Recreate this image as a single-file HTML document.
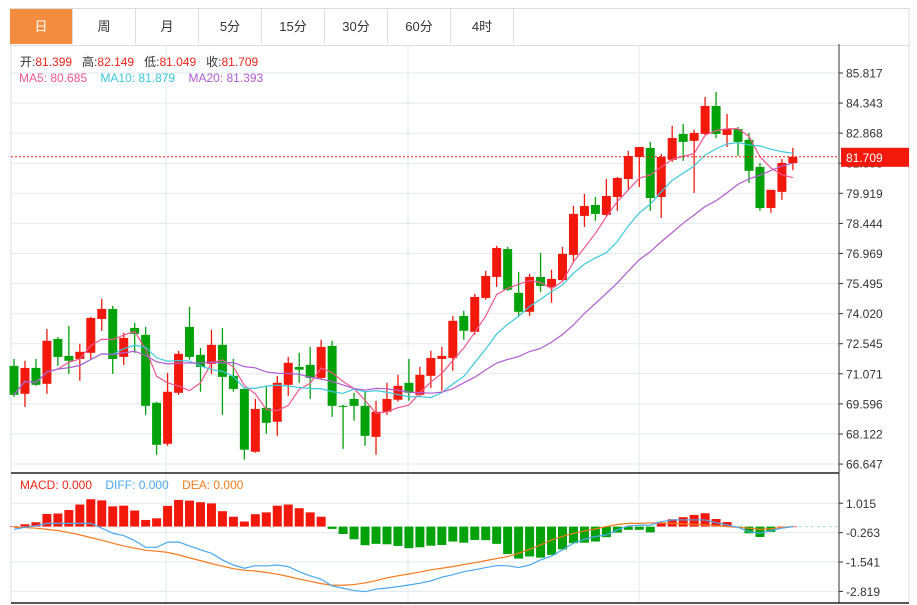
<!DOCTYPE html>
<html><head><meta charset="utf-8"><style>
body{margin:0;background:#fff;font-family:"Liberation Sans","Noto Sans CJK SC",sans-serif;}
#wrap{position:relative;width:917px;height:605px;overflow:hidden;}
.tab{position:absolute;top:9px;height:35px;width:62px;border-right:1px solid #ddd;font-size:13px;line-height:35px;text-align:center;color:#333;}
</style></head><body>
<div id="wrap">
<div style="position:absolute;left:10px;top:8px;width:899px;height:36px;border-top:1px solid #ddd;border-left:1px solid #ddd;border-bottom:1px solid #ddd;"></div>
<div class="tab" style="left:10px;background:#f28c3e;color:#fff;">日</div>
<div class="tab" style="left:73px">周</div>
<div class="tab" style="left:136px">月</div>
<div class="tab" style="left:199px">5分</div>
<div class="tab" style="left:262px">15分</div>
<div class="tab" style="left:325px">30分</div>
<div class="tab" style="left:388px">60分</div>
<div class="tab" style="left:451px">4时</div>
<svg id="svg" width="917" height="605" style="position:absolute;left:0;top:0"></svg>
<div style="position:absolute;left:20px;top:53px;font-size:12px;color:#333;white-space:nowrap">开:<span style="color:#f0241a">81.399</span>&nbsp;&nbsp; 高:<span style="color:#f0241a">82.149</span>&nbsp;&nbsp; 低:<span style="color:#f0241a">81.049</span>&nbsp;&nbsp; 收:<span style="color:#f0241a">81.709</span></div>
<div style="position:absolute;left:19px;top:71px;font-size:12px;white-space:nowrap"><span style="color:#f0578f">MA5: 80.685</span>&nbsp;&nbsp;&nbsp; <span style="color:#3cc8dc">MA10: 81.879</span>&nbsp;&nbsp;&nbsp; <span style="color:#b05cd0">MA20: 81.393</span></div>
<div style="position:absolute;left:20px;top:478px;font-size:12px;white-space:nowrap"><span style="color:#f0241a">MACD: 0.000</span>&nbsp;&nbsp;&nbsp; <span style="color:#4aa8f0">DIFF: 0.000</span>&nbsp;&nbsp;&nbsp; <span style="color:#f57a1e">DEA: 0.000</span></div>
</div>
<script>
const opens=[71.46,70.09,71.36,70.58,72.78,71.95,71.80,72.10,73.76,74.25,71.90,73.32,72.98,69.65,67.64,70.14,73.37,72.00,71.56,72.49,70.97,70.33,67.25,69.40,68.72,70.53,71.41,71.51,70.87,72.44,69.50,69.84,69.50,67.98,69.21,69.80,70.63,70.04,70.97,71.80,71.85,73.91,73.13,74.79,75.82,77.19,75.04,74.11,75.82,75.33,75.67,76.90,78.81,79.35,78.86,79.74,80.62,81.70,82.14,79.74,81.56,82.83,82.49,82.83,84.20,82.78,83.07,82.54,81.21,79.20,79.99,81.399];
const highs=[71.80,71.71,71.80,73.27,72.88,73.42,72.54,73.86,74.74,74.40,73.08,73.57,73.37,69.70,71.12,72.20,74.35,72.34,73.23,73.32,71.80,70.38,69.84,70.48,70.97,71.90,72.10,72.39,72.74,72.69,69.55,70.14,70.19,69.75,70.63,71.02,71.80,71.41,72.20,72.39,73.91,74.16,74.99,76.12,77.34,77.29,76.07,75.97,77.00,76.17,77.29,79.30,79.89,79.74,80.62,80.72,82.00,82.19,82.44,81.85,83.22,83.32,83.03,84.64,84.89,83.81,83.17,82.88,81.41,80.09,81.60,82.149];
const lows=[69.94,69.45,70.48,70.09,71.46,71.07,70.73,71.76,73.18,71.07,71.51,72.10,69.06,67.10,67.54,70.04,71.76,70.19,71.07,69.06,70.19,66.86,67.20,68.13,68.03,69.99,70.63,69.84,70.82,68.96,67.39,68.77,67.54,67.10,69.06,69.70,69.75,69.99,70.38,70.24,71.22,72.74,72.98,74.70,75.33,75.14,73.86,73.91,75.09,74.55,75.58,76.51,78.27,78.57,78.81,79.06,80.13,80.23,79.06,78.71,81.46,81.51,79.94,82.78,82.63,82.19,81.75,80.43,79.06,78.96,79.60,81.049];
const closes=[70.04,71.36,70.53,72.69,71.90,71.71,72.15,73.81,74.25,71.80,72.83,73.03,69.50,67.59,70.19,72.05,71.90,71.41,72.49,70.92,70.33,67.35,69.35,68.67,70.63,71.61,71.27,70.87,72.39,69.50,69.45,69.50,68.03,69.21,69.84,70.48,70.14,71.02,71.85,71.95,73.67,73.18,74.84,75.87,77.24,75.19,74.11,75.82,75.38,75.72,76.95,78.91,79.30,78.91,79.79,80.67,81.75,82.19,79.69,81.70,82.63,82.44,82.88,84.20,82.83,83.07,82.44,81.02,79.20,80.09,81.41,81.709];
const macdHist=[0.02,0.10,0.19,0.55,0.57,0.72,0.96,1.19,1.14,0.88,0.91,0.70,0.29,0.36,0.90,1.16,1.13,1.06,1.01,0.67,0.43,0.22,0.54,0.62,0.91,0.96,0.80,0.62,0.43,-0.10,-0.32,-0.55,-0.81,-0.75,-0.77,-0.84,-0.94,-0.90,-0.83,-0.80,-0.65,-0.70,-0.58,-0.59,-0.75,-1.19,-1.39,-1.30,-1.35,-1.23,-0.99,-0.72,-0.70,-0.65,-0.46,-0.26,-0.14,-0.14,-0.25,0.14,0.32,0.41,0.51,0.58,0.33,0.20,-0.03,-0.29,-0.45,-0.23,0,0];
const diffVals=[-0.12,-0.03,0.03,0.14,0.14,0.14,0.14,0.14,-0.07,-0.29,-0.39,-0.61,-0.90,-0.90,-0.68,-0.67,-0.84,-1.01,-1.16,-1.45,-1.67,-1.81,-1.70,-1.71,-1.67,-1.74,-1.96,-2.14,-2.29,-2.58,-2.68,-2.78,-2.83,-2.72,-2.67,-2.61,-2.54,-2.46,-2.36,-2.20,-2.09,-1.96,-1.88,-1.78,-1.70,-1.70,-1.78,-1.67,-1.45,-1.28,-1.01,-0.72,-0.55,-0.43,-0.36,-0.14,0.03,0.06,0.06,0.22,0.29,0.29,0.29,0.29,0.17,0.07,-0.03,-0.22,-0.29,-0.17,-0.07,0];
const deaVals=[-0.03,-0.04,-0.07,-0.12,-0.17,-0.26,-0.36,-0.48,-0.59,-0.72,-0.84,-0.94,-1.03,-1.07,-1.12,-1.23,-1.36,-1.48,-1.61,-1.72,-1.83,-1.90,-1.93,-1.99,-2.07,-2.17,-2.28,-2.38,-2.48,-2.55,-2.55,-2.52,-2.45,-2.35,-2.23,-2.14,-2.06,-1.97,-1.88,-1.81,-1.74,-1.65,-1.57,-1.48,-1.39,-1.30,-1.16,-0.99,-0.80,-0.58,-0.43,-0.29,-0.19,-0.10,0,0.09,0.14,0.14,0.16,0.17,0.14,0.12,0.10,0.07,0.04,0,-0.03,-0.07,-0.12,-0.09,-0.03,0];
const priceTicks=[85.817,84.343,82.868,81.393,79.919,78.444,76.969,75.495,74.020,72.545,71.071,69.596,68.122,66.647];
const macdTicks=[1.015,-0.263,-1.541,-2.819];
const lastPrice=81.709;

const svg=document.getElementById('svg');
const NS='http://www.w3.org/2000/svg';
function mk(tag,attrs,name){const e=document.createElementNS(NS,tag);for(const k in attrs)e.setAttribute(k,attrs[k]);


svg.appendChild(e);return e;}
const X0=14,STEP=10.97,AX=839;
const xS=i=>X0+i*STEP;
const yP=p=>73+(85.817-p)/1.47457*30.08;
const yM=v=>526.6-v*23.0;
const RED='#f2190c',GREEN='#03a10a';

// frame
mk('line',{x1:11,y1:44,x2:11,y2:603,stroke:'#d8dde3'},'left-border');
mk('line',{x1:909,y1:8,x2:909,y2:603,stroke:'#ddd'},'right-border');
[166,408,639].forEach(x=>mk('line',{x1:x,y1:45,x2:x,y2:603,stroke:'#e3e9ef'},'v-grid'));
priceTicks.forEach(t=>{const y=yP(t);
mk('line',{x1:11,y1:y,x2:AX,y2:y,stroke:'#e3e9ef'},'price-grid');
mk('line',{x1:AX,y1:y,x2:AX+4,y2:y,stroke:'#333'},'price-tick');
const tx=mk('text',{x:AX+7,y:y+4.5,'font-size':12,fill:'#333','font-family':'Liberation Sans'},'price-tick-label');tx.textContent=t.toFixed(3);});
macdTicks.forEach(t=>{const y=yM(t);
mk('line',{x1:11,y1:y,x2:AX,y2:y,stroke:'#e3e9ef'},'macd-grid');
mk('line',{x1:AX,y1:y,x2:AX+4,y2:y,stroke:'#333'},'macd-tick');
const tx=mk('text',{x:AX+7,y:y+4.5,'font-size':12,fill:'#333','font-family':'Liberation Sans'},'macd-tick-label');tx.textContent=t.toFixed(3);});
mk('line',{x1:AX,y1:44,x2:AX,y2:603,stroke:'#333'},'y-axis-line');
mk('line',{x1:11,y1:473,x2:AX,y2:473,stroke:'#222','stroke-width':1.5},'panel-separator');
mk('line',{x1:11,y1:603,x2:909,y2:603,stroke:'#222','stroke-width':1.5},'bottom-axis');

// candles
for(let i=0;i<closes.length;i++){
const up=closes[i]>=opens[i],c=up?RED:GREEN,x=xS(i);
mk('line',{x1:x,y1:yP(highs[i]),x2:x,y2:yP(lows[i]),stroke:c,'stroke-width':1.3},'candle-wick');
const t=yP(Math.max(opens[i],closes[i])),b=yP(Math.min(opens[i],closes[i]));
mk('rect',{x:x-4.5,y:t,width:9,height:Math.max(1,b-t),fill:c},'candle-body');}

function ma(n){return closes.map((v,i)=>{const s=closes.slice(Math.max(0,i-n+1),i+1);return s.reduce((a,b)=>a+b,0)/s.length;});}
[[5,'#f0578f','ma5-line'],[10,'#3cc8dc','ma10-line'],[20,'#b05cd0','ma20-line']].forEach(([n,c,nm])=>{
const m=ma(n);mk('polyline',{points:m.map((v,i)=>xS(i)+','+yP(v)).join(' '),fill:'none',stroke:c,'stroke-width':1.2},nm);});

// last price
const ly=yP(lastPrice);
mk('line',{x1:11,y1:ly,x2:AX,y2:ly,stroke:'#f0241a','stroke-dasharray':'2,2'},'last-price-line');
mk('rect',{x:AX+2,y:ly-9,width:68,height:19,fill:'#f2190c'},'last-price-box');
const lt=mk('text',{x:AX+7,y:ly+5,'font-size':12,fill:'#fff','font-family':'Liberation Sans'},'last-price-label');lt.textContent=lastPrice.toFixed(3);

// macd
const z=yM(0);
mk('line',{x1:xS(macdHist.length-1),y1:z,x2:AX,y2:z,stroke:'#a8d8f0','stroke-dasharray':'3,3'},'macd-zero-line');
macdHist.forEach((v,i)=>{const y=yM(v);
mk('rect',{x:xS(i)-4.5,y:Math.min(y,z),width:9,height:Math.max(0.5,Math.abs(y-z)),fill:v>=0?RED:GREEN},'macd-bar');});
mk('polyline',{points:deaVals.map((v,i)=>xS(i)+','+yM(v)).join(' '),fill:'none',stroke:'#f57a1e','stroke-width':1.2},'dea-line');
mk('polyline',{points:diffVals.map((v,i)=>xS(i)+','+yM(v)).join(' '),fill:'none',stroke:'#4aa8f0','stroke-width':1.2},'diff-line');
</script>
</body></html>
